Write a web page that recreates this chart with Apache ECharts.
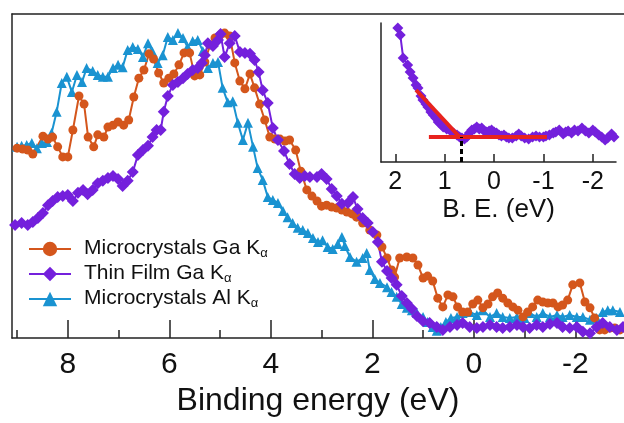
<!DOCTYPE html>
<html>
<head>
<meta charset="utf-8">
<script src="https://cdn.jsdelivr.net/npm/echarts@6/dist/echarts.min.js"></script>
<style>
  html, body { margin: 0; padding: 0; background: #fff; }
  #chart { width: 624px; height: 423px; }
</style>
</head>
<body>
<div id="chart"></div>
<script>
// [binding energy (eV), intensity (a.u.)]
const gaMicro = [
  [9.00, 58.6], [8.89, 58.3], [8.79, 58.0], [8.69, 56.8], [8.49, 62.3], [8.39, 61.4], [8.30, 62.0], [8.20, 59.0],
  [8.10, 55.9], [8.00, 55.9], [7.90, 64.2], [7.78, 74.7], [7.68, 72.2], [7.60, 62.0], [7.49, 59.0], [7.41, 62.7],
  [7.29, 62.0], [7.21, 65.1], [7.11, 65.7], [7.01, 66.7], [6.90, 65.7], [6.80, 67.3], [6.70, 74.4], [6.60, 80.2],
  [6.50, 82.7], [6.40, 87.7], [6.31, 86.1], [6.21, 81.8], [6.11, 78.7], [6.01, 80.2], [5.91, 81.5], [5.81, 84.3],
  [5.71, 88.0], [5.60, 88.0], [5.50, 80.9], [5.40, 81.2], [5.30, 85.2], [5.20, 90.4], [5.10, 92.6], [5.00, 93.5],
  [4.91, 94.1], [4.81, 93.2], [4.71, 84.9], [4.61, 79.3], [4.51, 76.9], [4.41, 81.5], [4.32, 77.2], [4.22, 72.2],
  [4.12, 67.3], [4.02, 62.0], [3.92, 61.4], [3.82, 61.4], [3.72, 60.8], [3.63, 61.1], [3.51, 58.0], [3.41, 51.5],
  [3.29, 45.7], [3.19, 43.8], [3.09, 42.3], [3.00, 40.7], [2.90, 41.0], [2.80, 40.4], [2.70, 40.1], [2.60, 39.5],
  [2.50, 38.9], [2.40, 38.3], [2.31, 37.3], [2.19, 35.5], [2.05, 33.3], [1.91, 31.8], [1.81, 28.1], [1.71, 24.7],
  [1.62, 21.0], [1.56, 18.8], [1.46, 24.7], [1.32, 25.0], [1.20, 24.7], [1.10, 22.5], [1.00, 18.5], [0.91, 19.1],
  [0.81, 17.6], [0.71, 12.3], [0.61, 9.6], [0.51, 13.3], [0.41, 12.7], [0.32, 9.6], [0.22, 8.0], [0.12, 8.0],
  [0.02, 10.5], [-0.08, 11.7], [-0.18, 9.3], [-0.28, 10.5], [-0.37, 12.7], [-0.47, 13.9], [-0.57, 12.3], [-0.67, 10.8],
  [-0.77, 9.6], [-0.87, 8.6], [-0.97, 6.5], [-1.06, 8.0], [-1.16, 9.6], [-1.26, 11.7], [-1.36, 11.1], [-1.46, 10.8],
  [-1.56, 10.8], [-1.66, 9.6], [-1.75, 10.2], [-1.85, 11.7], [-1.95, 16.4], [-2.09, 17.0], [-2.19, 11.1], [-2.29, 9.3],
  [-2.38, 6.2], [-2.48, 2.5], [-2.58, 2.5], [-2.68, 3.1], [-2.78, 3.1], [-2.88, 2.5]
]

const gaFilm = [
  [9.04, 34.9], [8.91, 35.5], [8.79, 34.9], [8.69, 35.8], [8.59, 37.0], [8.49, 38.6], [8.39, 41.0], [8.30, 42.3],
  [8.20, 43.5], [8.10, 43.8], [8.00, 44.1], [7.90, 42.3], [7.80, 44.8], [7.70, 45.7], [7.61, 44.4], [7.51, 45.7],
  [7.41, 47.8], [7.31, 48.5], [7.21, 49.4], [7.11, 50.0], [7.01, 49.1], [6.92, 46.9], [6.82, 48.5], [6.72, 51.2],
  [6.62, 56.5], [6.52, 58.0], [6.42, 59.3], [6.33, 62.0], [6.25, 64.2], [6.17, 64.2], [6.11, 69.8], [6.03, 74.7],
  [5.93, 78.1], [5.83, 79.0], [5.73, 80.2], [5.64, 81.5], [5.54, 82.7], [5.44, 83.3], [5.36, 84.9], [5.30, 87.3],
  [5.24, 91.0], [5.14, 90.1], [5.04, 92.0], [4.99, 93.8], [4.91, 86.7], [4.81, 91.0], [4.71, 93.2], [4.61, 88.3],
  [4.51, 88.0], [4.41, 87.7], [4.32, 85.8], [4.24, 82.1], [4.16, 76.5], [4.06, 72.5], [3.96, 64.8], [3.86, 61.1],
  [3.74, 57.7], [3.63, 53.7], [3.53, 50.6], [3.43, 49.4], [3.33, 50.0], [3.23, 49.7], [3.09, 49.7], [3.00, 50.6],
  [2.90, 49.1], [2.80, 46.0], [2.70, 43.8], [2.60, 41.4], [2.48, 41.7], [2.38, 43.5], [2.29, 39.8], [2.19, 37.0],
  [2.09, 35.5], [1.99, 32.7], [1.89, 29.6], [1.81, 23.5], [1.71, 20.7], [1.62, 18.5], [1.52, 16.4], [1.42, 13.0],
  [1.32, 10.8], [1.22, 9.0], [1.12, 6.8], [1.00, 5.2], [0.87, 4.6], [0.73, 3.4], [0.61, 2.5], [0.47, 3.4],
  [0.33, 4.0], [0.22, 4.6], [0.08, 3.4], [-0.06, 3.1], [-0.18, 3.4], [-0.32, 4.0], [-0.45, 3.4], [-0.57, 3.1],
  [-0.71, 3.4], [-0.85, 4.0], [-0.97, 3.4], [-1.10, 3.1], [-1.24, 4.0], [-1.36, 3.4], [-1.50, 4.3], [-1.64, 4.6],
  [-1.75, 3.4], [-1.89, 3.1], [-2.03, 3.4], [-2.15, 1.9], [-2.29, 1.5], [-2.42, 3.4], [-2.54, 4.6], [-2.68, 3.4],
  [-2.82, 2.5], [-2.94, 3.4]
]

const alMicro = [
  [9.00, 59.0], [8.91, 59.3], [8.81, 59.6], [8.71, 60.2], [8.61, 58.6], [8.51, 60.2], [8.41, 60.5], [8.32, 63.3],
  [8.22, 69.8], [8.12, 78.7], [8.02, 80.6], [7.92, 75.9], [7.82, 81.2], [7.72, 79.0], [7.63, 83.3], [7.51, 82.4],
  [7.41, 81.2], [7.31, 80.6], [7.21, 80.6], [7.11, 83.3], [7.01, 84.3], [6.92, 83.6], [6.82, 88.9], [6.72, 89.8],
  [6.62, 89.2], [6.52, 86.7], [6.42, 91.0], [6.33, 88.3], [6.23, 84.9], [6.13, 87.3], [6.03, 92.9], [5.93, 92.0],
  [5.83, 94.1], [5.73, 92.6], [5.64, 89.8], [5.54, 91.7], [5.44, 92.0], [5.34, 88.6], [5.24, 83.3], [5.14, 84.9],
  [5.04, 85.2], [4.95, 77.2], [4.85, 72.8], [4.75, 73.1], [4.65, 66.4], [4.55, 61.1], [4.45, 66.4], [4.35, 59.0],
  [4.26, 52.5], [4.16, 48.8], [4.06, 43.5], [3.96, 42.6], [3.86, 41.7], [3.76, 39.2], [3.67, 37.3], [3.57, 35.5],
  [3.47, 34.0], [3.37, 33.3], [3.27, 32.4], [3.17, 30.9], [3.07, 29.6], [2.98, 30.2], [2.88, 28.1], [2.78, 27.5],
  [2.68, 29.0], [2.60, 31.2], [2.54, 28.4], [2.44, 25.0], [2.31, 23.5], [2.19, 24.7], [2.11, 26.2], [2.05, 21.0],
  [1.95, 18.2], [1.85, 17.0], [1.71, 15.7], [1.62, 14.2], [1.52, 12.7], [1.42, 10.5], [1.32, 9.3], [1.22, 8.6],
  [1.12, 7.7], [1.00, 6.5], [0.91, 4.9], [0.81, 3.4], [0.73, 2.2], [0.65, 3.4], [0.55, 4.9], [0.45, 6.2],
  [0.33, 6.5], [0.22, 7.7], [0.08, 8.0], [-0.06, 7.1], [-0.18, 8.6], [-0.32, 6.5], [-0.45, 7.7], [-0.57, 6.5],
  [-0.71, 6.2], [-0.85, 6.5], [-1.00, 6.2], [-1.10, 7.7], [-1.24, 6.5], [-1.36, 7.7], [-1.50, 6.5], [-1.64, 7.1],
  [-1.75, 6.5], [-1.89, 7.1], [-2.03, 6.5], [-2.15, 6.5], [-2.29, 5.6], [-2.42, 6.2], [-2.54, 8.0], [-2.64, 8.6],
  [-2.74, 8.6], [-2.88, 8.0]
]

// inset: thin film near the valence band edge, with the two linear fits
const insetFilm = [
  [1.95, 96.4], [1.90, 91.4], [1.84, 74.8], [1.75, 69.8], [1.70, 64.7], [1.64, 60.4], [1.58, 55.4], [1.54, 53.2],
  [1.48, 47.5], [1.44, 44.6], [1.38, 41.7], [1.34, 39.6], [1.28, 36.0], [1.23, 33.8], [1.18, 31.7], [1.13, 28.8],
  [1.08, 27.3], [1.03, 25.2], [0.96, 23.7], [0.90, 23.0], [0.82, 20.9], [0.75, 19.4], [0.70, 18.0], [0.65, 17.3],
  [0.60, 16.5], [0.55, 18.0], [0.50, 20.9], [0.45, 23.0], [0.40, 23.7], [0.35, 25.2], [0.30, 23.7], [0.25, 24.5],
  [0.20, 22.3], [0.15, 21.6], [0.10, 22.3], [0.05, 23.0], [0.00, 21.6], [-0.05, 20.9], [-0.10, 19.4], [-0.15, 18.7],
  [-0.20, 19.4], [-0.25, 18.0], [-0.30, 17.3], [-0.37, 17.3], [-0.45, 18.7], [-0.50, 20.1], [-0.55, 18.7], [-0.62, 17.3],
  [-0.70, 16.5], [-0.78, 18.0], [-0.85, 18.7], [-0.92, 18.0], [-1.00, 18.0], [-1.05, 18.7], [-1.12, 19.4], [-1.20, 20.9],
  [-1.25, 21.6], [-1.32, 23.0], [-1.40, 20.1], [-1.45, 21.6], [-1.50, 22.3], [-1.57, 20.9], [-1.63, 23.0], [-1.70, 22.3],
  [-1.78, 24.5], [-1.85, 22.3], [-1.92, 20.9], [-2.00, 23.0], [-2.05, 21.6], [-2.12, 19.4], [-2.18, 18.0], [-2.25, 15.8],
  [-2.30, 17.3], [-2.38, 20.1], [-2.43, 18.0]
]
const fitSlope = [[1.58, 51.8], [0.70, 18.0]]
const fitBase = [[1.32, 18.0], [-1.07, 18.0]]
const onsetMark = [[0.66, 0], [0.66, 18.0]]

const mainLabels = [8, 6, 4, 2, 0, -2]
const mainMinor = [9, 7, 5, 3, 1, -1]
const insetLabels = [2, 1, 0, -1, -2]
const names = ['Microcrystals Ga Kα', 'Thin Film Ga Kα', 'Microcrystals Al Kα']
const colors = { ga: '#d4561c', film: '#7420dc', al: '#1a93d1' }

const font = 'Liberation Sans, Arial, sans-serif'
const ink = '#111'
const frame = { color: '#222', width: 1.5 }

const chart = echarts.init(document.getElementById('chart'))

function lineSeries(name, data, symbol, size, color) {
  return {
    name: name,
    type: 'line',
    data: data,
    symbol: symbol,
    symbolSize: size,
    showAllSymbol: true,
    itemStyle: { color: color },
    lineStyle: { color: color, width: 2 },
    emphasis: { disabled: true }
  }
}

function bare(extra) {
  // axis with only its line
  return Object.assign({
    type: 'value',
    axisLine: { show: true, onZero: false, lineStyle: frame },
    axisTick: { show: false },
    axisLabel: { show: false },
    splitLine: { show: false }
  }, extra)
}

function insetLine(data, style) {
  return {
    type: 'line', xAxisIndex: 3, yAxisIndex: 1, data: data, symbol: 'none', z: 10,
    lineStyle: style, emphasis: { disabled: true }
  }
}

const option = {
  animation: false,
  backgroundColor: '#fff',
  textStyle: { fontFamily: font },
  grid: [
    { left: 12, right: 0, top: 14, bottom: 85 },
    { left: 381, top: 23, width: 235, height: 139 }
  ],
  legend: {
    data: names,
    orient: 'vertical',
    left: 23,
    top: 233,
    itemWidth: 42,
    itemHeight: 18,
    itemGap: 3,
    selectedMode: false,
    formatter: name => '{a|' + name.slice(0, -1) + '}{s|α}',
    textStyle: {
      color: ink,
      fontFamily: font,
      rich: {
        a: { fontSize: 21, lineHeight: 22, verticalAlign: 'top', padding: [0, 0, 0, 8], fontFamily: font, color: ink },
        s: { fontSize: 13, lineHeight: 4, verticalAlign: 'bottom', fontFamily: font, color: ink }
      }
    }
  },
  xAxis: [
    {
      gridIndex: 0, type: 'value', position: 'bottom', inverse: true, min: -2.96, max: 9.1,
      axisLine: { show: true, onZero: false, lineStyle: frame },
      axisTick: { show: true, inside: true, length: 18, customValues: mainLabels, lineStyle: frame },
      axisLabel: { customValues: mainLabels, fontSize: 30, color: ink, margin: 12, fontFamily: font },
      splitLine: { show: false },
      name: 'Binding energy (eV)', nameLocation: 'middle', nameGap: 43,
      nameTextStyle: { fontSize: 32, color: ink, fontFamily: font }
    },
    {
      gridIndex: 0, type: 'value', position: 'bottom', inverse: true, min: -2.96, max: 9.1,
      axisLine: { show: false, onZero: false },
      axisTick: { show: true, inside: true, length: 8, customValues: mainMinor, lineStyle: frame },
      axisLabel: { show: false },
      splitLine: { show: false }
    },
    bare({ gridIndex: 0, position: 'top', inverse: true, min: -2.96, max: 9.1 }),
    {
      gridIndex: 1, type: 'value', position: 'bottom', inverse: true, min: -2.47, max: 2.29,
      axisLine: { show: true, onZero: false, lineStyle: frame },
      axisTick: { show: true, inside: true, length: 8, customValues: insetLabels, lineStyle: frame },
      axisLabel: { customValues: insetLabels, fontSize: 25, color: ink, margin: 8, fontFamily: font },
      splitLine: { show: false },
      name: 'B. E. (eV)', nameLocation: 'middle', nameGap: 35,
      nameTextStyle: { fontSize: 26, color: ink, fontFamily: font }
    }
  ],
  yAxis: [
    bare({ gridIndex: 0, position: 'left', min: 0, max: 100 }),
    bare({ gridIndex: 1, position: 'left', min: 0, max: 100 })
  ],
  series: [
    lineSeries(names[2], alMicro, 'triangle', 10, colors.al),
    lineSeries(names[0], gaMicro, 'circle', 9, colors.ga),
    lineSeries(names[1], gaFilm, 'diamond', 12, colors.film),
    Object.assign(lineSeries('inset', insetFilm, 'diamond', 11, colors.film), { xAxisIndex: 3, yAxisIndex: 1 }),
    insetLine(fitSlope, { color: '#e8231d', width: 4 }),
    insetLine(fitBase, { color: '#e8231d', width: 4 }),
    insetLine(onsetMark, { color: '#000', width: 3, type: [5, 3] })
  ]
}

chart.setOption(option)
</script>
</body>
</html>
